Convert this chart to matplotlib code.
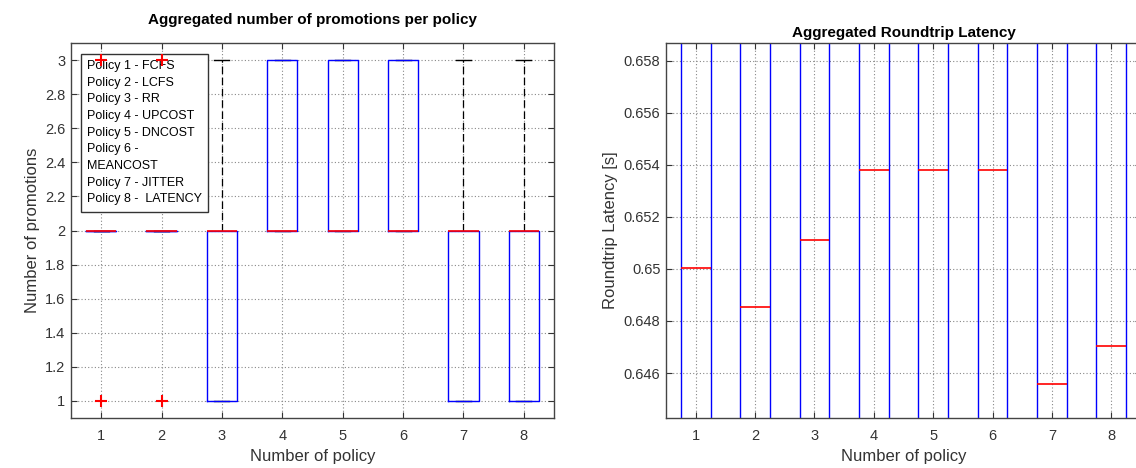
import matplotlib
matplotlib.use('Agg')
import matplotlib.pyplot as plt
from matplotlib.ticker import FormatStrFormatter

plt.rcParams['font.family'] = ['Liberation Sans', 'DejaVu Sans']

# Daten: linkes Diagramm (Anzahl Promotions)
policies = [1, 2, 3, 4, 5, 6, 7, 8]
prom_q1 = [2, 2, 1, 2, 2, 2, 1, 1]
prom_med = [2, 2, 2, 2, 2, 2, 2, 2]
prom_q3 = [2, 2, 2, 3, 3, 3, 2, 2]
prom_whislo = [2, 2, 1, 2, 2, 2, 1, 1]
prom_whishi = [2, 2, 3, 3, 3, 3, 3, 3]
prom_fliers = [[1, 3], [1, 3], [], [], [], [], [], []]

legend_lines = ['Policy 1 - FCFS', 'Policy 2 - LCFS', 'Policy 3 - RR',
                'Policy 4 - UPCOST', 'Policy 5 - DNCOST', 'Policy 6 -',
                'MEANCOST', 'Policy 7 - JITTER', 'Policy 8 -  LATENCY']

# Daten: rechtes Diagramm (Roundtrip-Latenz)
lat_med = [0.65004, 0.64854, 0.65112, 0.65380, 0.65380, 0.65380, 0.64558, 0.64703]
lat_q1 = [0.640, 0.640, 0.640, 0.640, 0.640, 0.640, 0.640, 0.640]
lat_q3 = [0.665, 0.665, 0.665, 0.665, 0.665, 0.665, 0.665, 0.665]

fig = plt.figure(figsize=(11.36, 4.68), dpi=100)
ax1 = fig.add_axes([71 / 1136, 50 / 468, 483 / 1136, 375 / 468])
ax2 = fig.add_axes([666 / 1136, 50 / 468, 475 / 1136, 375 / 468])

grid_kw = dict(color='#888888', linestyle=(0, (1, 2)), linewidth=0.8)


def stats(q1, med, q3, lo, hi, fl):
    out = []
    for i in range(len(med)):
        out.append(dict(q1=q1[i], med=med[i], q3=q3[i], whislo=lo[i],
                        whishi=hi[i], fliers=fl[i]))
    return out


def style_axes(ax):
    ax.set_xlim(0.5, 8.5)
    ax.set_xticks(policies)
    ax.set_xticklabels([str(p) for p in policies])
    ax.tick_params(direction='in', top=True, right=True, length=4,
                   labelsize=10.5, colors='#333333', pad=8)
    ax.tick_params(axis='y', pad=4)
    for s in ax.spines.values():
        s.set_color('#444444')
        s.set_linewidth(1.0)
    ax.grid(True, **grid_kw)
    ax.set_axisbelow(True)
    ax.set_xlabel('Number of policy', fontsize=12, color='#333333')


# Linkes Diagramm
ax1.bxp(stats(prom_q1, prom_med, prom_q3, prom_whislo, prom_whishi, prom_fliers),
        positions=policies, widths=0.5, showfliers=True,
        boxprops=dict(color='blue', linewidth=1.0, zorder=3),
        medianprops=dict(color='red', linewidth=1.2, zorder=4),
        whiskerprops=dict(color='black', linestyle=(0, (6, 3)), linewidth=0.9,
                          zorder=2),
        capprops=dict(color='black', linewidth=1.0, zorder=2),
        capwidths=0.25,
        flierprops=dict(marker='+', markeredgecolor='red', markersize=8,
                        markeredgewidth=1.5, zorder=6))
ax1.set_ylim(0.9, 3.1)
ax1.set_yticks([1, 1.2, 1.4, 1.6, 1.8, 2, 2.2, 2.4, 2.6, 2.8, 3])
ax1.yaxis.set_major_formatter(FormatStrFormatter('%g'))
style_axes(ax1)
ax1.set_ylabel('Number of promotions', fontsize=12, color='#333333')
ax1.set_title('Aggregated number of promotions per policy', fontsize=11,
              fontweight='bold', pad=14)
ax1.text(0.033, 0.955, '\n'.join(legend_lines), transform=ax1.transAxes,
         fontsize=9, va='top', ha='left', linespacing=1.52, zorder=5,
         bbox=dict(boxstyle='square,pad=0.5', fc='white', ec='#333333', lw=1.0))

# Rechtes Diagramm
ax2.bxp(stats(lat_q1, lat_med, lat_q3, lat_q1, lat_q3, [[]] * 8),
        positions=policies, widths=0.5, showfliers=False,
        boxprops=dict(color='blue', linewidth=1.0),
        medianprops=dict(color='red', linewidth=1.2),
        whiskerprops=dict(color='black', linestyle='--'),
        capprops=dict(color='black'))
ax2.set_ylim(0.64427, 0.65869)
ax2.set_yticks([0.646, 0.648, 0.650, 0.652, 0.654, 0.656, 0.658])
ax2.yaxis.set_major_formatter(FormatStrFormatter('%g'))
style_axes(ax2)
ax2.set_ylabel('Roundtrip Latency [s]', fontsize=12, color='#333333')
ax2.set_title('Aggregated Roundtrip Latency', fontsize=11, fontweight='bold', pad=4)

fig.savefig('out.png', dpi=100)
